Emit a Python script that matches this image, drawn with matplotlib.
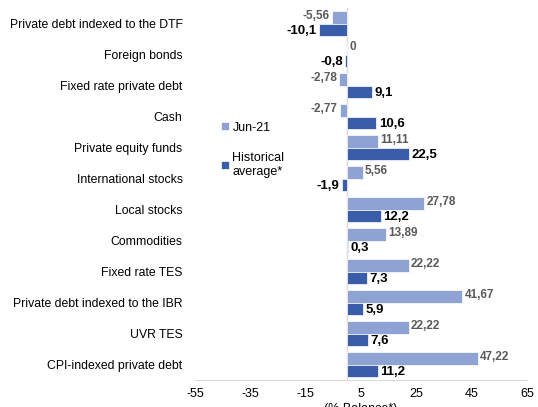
import matplotlib.pyplot as plt
import numpy as np

plt.rcParams['font.family'] = ['Liberation Sans', 'DejaVu Sans']

categories = ['Private debt indexed to the DTF', 'Foreign bonds', 'Fixed rate private debt',
              'Cash', 'Private equity funds', 'International stocks', 'Local stocks',
              'Commodities', 'Fixed rate TES', 'Private debt indexed to the IBR',
              'UVR TES', 'CPI-indexed private debt']
jun21 = [-5.56, 0, -2.78, -2.77, 11.11, 5.56, 27.78, 13.89, 22.22, 41.67, 22.22, 47.22]
jun21_labels = ['-5,56', '0', '-2,78', '-2,77', '11,11', '5,56', '27,78', '13,89',
                '22,22', '41,67', '22,22', '47,22']
hist = [-10.1, -0.8, 9.1, 10.6, 22.5, -1.9, 12.2, 0.3, 7.3, 5.9, 7.6, 11.2]
hist_labels = ['-10,1', '-0,8', '9,1', '10,6', '22,5', '-1,9', '12,2', '0,3',
               '7,3', '5,9', '7,6', '11,2']
xticks = [-55, -35, -15, 5, 25, 45, 65]

light = '#8fa2d4'
dark = '#3a5daa'

fig = plt.figure(figsize=(5.38, 4.07), dpi=100)
ax = fig.add_axes([0.3625, 0.066, 0.617, 0.914])

y = np.arange(len(categories))
h = 0.4
ax.barh(y - h / 2, jun21, height=h, color=light, edgecolor='white', linewidth=0.5, label='Jun-21')
ax.barh(y + h / 2, hist, height=h, color=dark, edgecolor='white', linewidth=0.5,
        label='Historical\naverage*')

for i in range(len(categories)):
    v = jun21[i]
    if v < 0:
        ax.text(v - 0.8, y[i] - h / 2 - 0.05, jun21_labels[i], ha='right', va='center',
                fontsize=8.5, color='#595959', fontweight='bold')
    else:
        ax.text(v + 0.8, y[i] - h / 2 - 0.05, jun21_labels[i], ha='left', va='center',
                fontsize=8.5, color='#595959', fontweight='bold')
    v = hist[i]
    if v < 0:
        ax.text(v - 0.8, y[i] + h / 2 + 0.05, hist_labels[i], ha='right', va='center',
                fontsize=9.5, color='black', fontweight='bold')
    else:
        ax.text(v + 0.8, y[i] + h / 2 + 0.05, hist_labels[i], ha='left', va='center',
                fontsize=9.5, color='black', fontweight='bold')

ax.set_xlim(-55, 65)
ax.set_ylim(len(categories) - 0.5, -0.5)
ax.set_xticks(xticks)
ax.set_xticklabels([str(t) for t in xticks], fontsize=9)
ax.set_yticks(y)
ax.set_yticklabels(categories, fontsize=8.8)
ax.tick_params(axis='both', length=0)
ax.tick_params(axis='x', pad=6)
ax.tick_params(axis='y', pad=9)
ax.set_xlabel('(% Balance*)', fontsize=9, labelpad=2)

for s in ['top', 'right', 'left']:
    ax.spines[s].set_visible(False)
ax.spines['bottom'].set_color('#d9d9d9')
ax.axvline(0, color='#d9d9d9', linewidth=1, zorder=0)

ax.legend(loc='upper left', bbox_to_anchor=(0.045, 0.725), frameon=False, fontsize=9,
          handlelength=0.6, handleheight=0.6, handletextpad=0.3, labelspacing=1.5)

fig.savefig('out.png', dpi=100)
